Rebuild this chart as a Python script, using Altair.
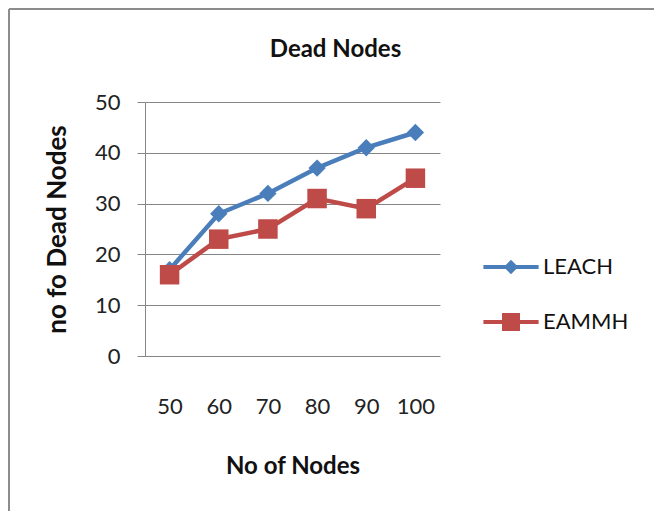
import altair as alt
import pandas as pd

nodes = [50, 60, 70, 80, 90, 100]
leach = [17, 28, 32, 37, 41, 44]
eammh = [16, 23, 25, 31, 29, 35]
series_names = ["LEACH", "EAMMH"]
series_colors = ["#4A7EBB", "#BE4B48"]

rows = []
for name, vals in zip(series_names, [leach, eammh]):
    for n, v in zip(nodes, vals):
        rows.append({"nodes": str(n), "dead": v, "series": name})
df = pd.DataFrame(rows)

FONT = "Lato"
GRAY = "#868686"

x_enc = alt.X("nodes:O", sort=[str(n) for n in nodes],
              scale=alt.Scale(padding=0.5),
              axis=alt.Axis(title="No of Nodes", labelAngle=0, domain=False, ticks=False,
                            tickSize=0, labelPadding=40, titlePadding=37,
                            labelFontSize=22, titleFontSize=24, titleFontWeight="bold",
                            labelColor="#222", titleColor="#111", grid=False))
y_enc = alt.Y("dead:Q", scale=alt.Scale(domain=[0, 50]),
              axis=alt.Axis(title="no fo Dead Nodes", values=[0, 10, 20, 30, 40, 50],
                            tickSize=8, tickColor=GRAY, domainColor=GRAY, gridColor=GRAY,
                            grid=True, labelPadding=17, titlePadding=24,
                            labelFontSize=22, titleFontSize=26, titleFontWeight="bold",
                            labelColor="#222", titleColor="#111"))

color_plain = alt.Color("series:N", scale=alt.Scale(domain=series_names, range=series_colors), legend=None)

lines = alt.Chart(df).mark_line(strokeWidth=4.5).encode(x=x_enc, y=y_enc, color=color_plain, detail="series:N")

points = alt.Chart(df).mark_point(filled=True, opacity=1, strokeWidth=0).encode(
    x=x_enc, y=y_enc, color=color_plain,
    shape=alt.Shape("series:N", scale=alt.Scale(domain=series_names, range=["diamond", "square"]), legend=None),
    size=alt.Size("series:N", scale=alt.Scale(domain=series_names, range=[300, 380]), legend=None),
)

leg_paths = [
    "M-4.6,-0.35H4.6V0.35H-4.6Z M0,-1.2L1.2,0L0,1.2L-1.2,0Z",
    "M-4.6,-0.35H4.6V0.35H-4.6Z M-1.5,-1.5H1.5V1.5H-1.5Z",
]
leg = alt.Legend(title=None, orient="none", legendX=355, legendY=154,
                 symbolSize=144, labelOffset=21, rowPadding=33, padding=0,
                 labelFontSize=22, labelColor="#111", symbolStrokeWidth=0)
legend_layer = alt.Chart(df).transform_filter("false").mark_point(filled=True, opacity=1, strokeWidth=0).encode(
    x=x_enc, y=y_enc,
    color=alt.Color("series:N", scale=alt.Scale(domain=series_names, range=series_colors), legend=leg),
    shape=alt.Shape("series:N", scale=alt.Scale(domain=series_names, range=leg_paths), legend=leg),
)

frame_df = pd.DataFrame({"k": [1]})
frame_top = alt.Chart(frame_df).mark_rule(color="#8c8c8c", strokeWidth=2).encode(
    x=alt.value(-136), x2=alt.value(512), y=alt.value(-93))
frame_left = alt.Chart(frame_df).mark_rule(color="#8c8c8c", strokeWidth=2).encode(
    x=alt.value(-136), y=alt.value(-93), y2=alt.value(412))

chart = alt.layer(frame_top, frame_left, lines, points, legend_layer).resolve_scale(
    color="independent", shape="independent", size="independent"
).properties(
    width=295, height=254,
    title=alt.TitleParams("Dead Nodes", fontSize=24, fontWeight="bold", font=FONT, color="#111",
                          anchor="middle", dx=43, dy=54, offset=0),
    autosize=alt.AutoSizeParams(type="none"),
    padding={"left": 137, "top": 94, "right": 214, "bottom": 155},
).configure(font=FONT).configure_view(strokeWidth=0).configure_axis(labelFont=FONT, titleFont=FONT).configure_legend(labelFont=FONT)

chart.save("out.html", embed_options={"renderer": "svg", "actions": False})
